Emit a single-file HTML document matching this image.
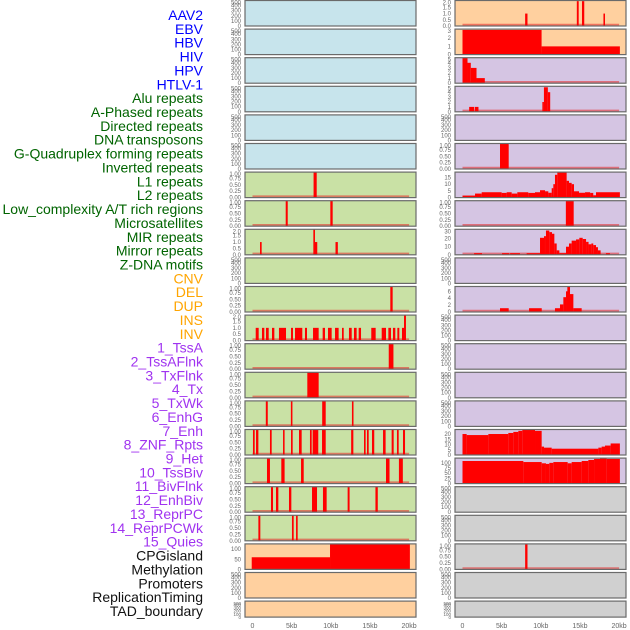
<!DOCTYPE html>
<html><head><meta charset="utf-8"><style>
html,body{margin:0;padding:0;background:#fff;}
svg{display:block;font-family:"Liberation Sans",sans-serif;}
</style></head><body>
<svg id="chart" width="630" height="630" viewBox="0 0 630 630" xmlns="http://www.w3.org/2000/svg"></svg>
<script>
// ---- labels ----
const trackLabels = ["AAV2","EBV","HBV","HIV","HPV","HTLV-1","Alu repeats","A-Phased repeats","Directed repeats","DNA transposons","G-Quadruplex forming repeats","Inverted repeats","L1 repeats","L2 repeats","Low_complexity A/T rich regions","Microsatellites","MIR repeats","Mirror repeats","Z-DNA motifs","CNV","DEL","DUP","INS","INV","1_TssA","2_TssAFlnk","3_TxFlnk","4_Tx","5_TxWk","6_EnhG","7_Enh","8_ZNF_Rpts","9_Het","10_TssBiv","11_BivFlnk","12_EnhBiv","13_ReprPC","14_ReprPCWk","15_Quies","CPGisland","Methylation","Promoters","ReplicationTiming","TAD_boundary"];
const labelGroups = ["blue","blue","blue","blue","blue","blue","green","green","green","green","green","green","green","green","green","green","green","green","green","orange","orange","orange","orange","orange","purple","purple","purple","purple","purple","purple","purple","purple","purple","purple","purple","purple","purple","purple","purple","black","black","black","black","black"];
const xTicks = [0,5,10,15,20];
const xTickLabels = ["0","5kb","10kb","15kb","20kb"];

// ---- y tick sets ----
const t500 = [0,100,200,300,400,500], t500L = ["0","100","200","300","400","500"];
const t1 = [0,0.25,0.5,0.75,1], t1L = ["0.00","0.25","0.50","0.75","1.00"];
const t2 = [0,0.5,1,1.5,2], t2L = ["0.0","0.5","1.0","1.5","2.0"];

// ---- left column data: [startKb, endKb, value] ----
const leftR6 = [[7.8,8.2,1]];
const leftR7 = [[4.24,4.5,1],[9.94,10.24,1]];
const leftR8 = [[0.96,1.17,1],[7.77,7.98,2],[7.98,8.27,1],[10.6,10.9,1]];
const leftR10 = [[17.6,17.9,1]];
const leftR11 = [[0.41,0.79,1],[1.21,1.51,1],[1.72,2.07,1],[2.49,2.79,1],[3.38,4.28,1],[4.92,5.17,1],[5.43,6.36,1],[6.7,6.96,1],[7.73,8.45,1],[8.96,9.26,1],[9.64,10.11,1],[10.54,11.0,1],[11.43,11.65,1],[12.32,12.67,1],[12.96,13.3,1],[13.56,13.86,1],[15.17,15.73,1],[16.5,17.05,1],[17.35,17.69,1],[17.94,18.24,1],[18.5,18.75,1],[19.09,19.35,1],[19.35,19.6,2]];
const leftR12 = [[17.4,18.0,1]];
const leftR13 = [[7.0,8.45,1]];
const leftR14 = [[1.7,1.95,1],[4.9,5.1,1],[8.9,9.35,1],[12.7,12.9,1]];
const leftR15 = [[0.06,0.28,1],[0.45,0.75,1],[2.23,2.45,1],[3.9,4.1,1],[4.92,5.13,1],[5.94,6.28,1],[7.34,7.56,1],[7.68,8.4,1],[8.88,9.35,1],[12.6,12.88,1],[14.24,14.45,1],[14.62,14.84,1],[15.26,15.55,1],[16.67,17.0,1],[17.77,18.03,1],[18.45,18.67,1],[19.22,19.48,1]];
const leftR16 = [[1.85,2.23,1],[3.68,4.1,1],[6.2,6.54,1],[17.05,17.5,1],[18.7,19.2,1]];
const leftR17 = [[2.36,2.62,1],[3.0,3.3,1],[4.66,4.96,1],[7.6,8.24,1],[9.0,9.47,1],[12.15,12.4,1],[15.7,16.0,1]];
const leftR18 = [[0.75,1.0,1],[5.04,5.26,1],[5.56,5.77,1]];
const leftR19 = [[-0.1,9.9,60],[9.9,20.1,126]];

// ---- right column data ----
const rightR0 = [[8.0,8.3,1],[14.6,14.84,2],[15.26,15.55,2],[18.0,18.2,1]];
const rightR1 = [[0,10.1,3],[10.1,20.1,1]];
const rightR2 = [[0,0.64,5],[0.64,1.06,4],[1.06,1.79,3],[1.79,2.85,1]];
const rightR3 = [[0.85,1.49,1],[1.58,2.04,1],[10.2,10.4,2],[10.4,10.9,5],[10.9,11.2,4]];
const rightR5 = [[4.79,5.9,1]];
const rightR6 = [[0,1.6,1.4],[1.6,2.45,3],[2.45,5.0,4],[5.0,5.64,3.5],[5.64,6.28,4],[6.28,7.0,3],[7.0,8.4,4],[8.4,9.26,3.5],[9.26,9.9,4],[9.9,10.54,5.5],[10.54,10.96,4.7],[10.96,11.39,3.6],[11.39,11.6,7],[11.6,11.81,10],[11.81,12.11,17],[12.11,13.3,19],[13.3,13.6,12.5],[13.6,13.94,11],[13.94,14.24,10],[14.24,14.88,4.7],[14.88,15.65,3.6],[15.65,16.3,4],[16.3,16.7,3.5],[16.7,17.05,1.7],[17.05,20.1,4]];
const rightR7 = [[13.2,14.2,1]];
const rightR8 = [[1.48,2.49,2],[5.05,5.98,2],[6.08,7.34,2],[8.19,9.9,2],[9.9,10.41,21],[10.41,10.66,23],[10.66,11.09,30],[11.09,11.43,28],[11.43,11.73,26],[11.73,12.03,14],[12.03,12.37,5.5],[12.37,13.22,2],[13.22,13.6,10],[13.6,13.94,14],[13.94,14.5,17.5],[14.5,14.92,19],[14.92,15.35,21],[15.35,15.78,19.5],[15.78,16.1,16],[16.1,16.46,13],[16.46,16.7,14],[16.7,17.05,12],[17.05,17.3,9.4],[17.3,17.64,5.5],[18.32,18.83,2]];
const rightR10 = [[4.79,5.9,1.1],[8.5,10.12,1.1],[11.81,12.45,1.1],[12.45,12.88,2.2],[12.88,13.22,4.3],[13.22,13.39,6],[13.39,13.73,7.3],[13.73,14.16,5.2],[14.16,15.22,1.1]];
const rightR15 = [[0,0.53,20],[0.53,3.3,19],[3.3,5.85,20],[5.85,6.49,21],[6.49,7.13,22],[7.13,7.64,23],[7.64,9.26,24],[9.26,10.11,23],[10.11,10.41,8],[10.41,11.39,7],[11.39,17.35,6],[17.35,17.77,7],[17.77,18.2,8],[18.2,18.92,9],[18.92,20.1,11]];
const rightR16 = [[0,7.77,109],[7.77,10.11,104],[10.11,10.66,98],[10.66,11.09,95],[11.09,11.6,100],[11.6,13.43,104],[13.43,13.94,98],[13.94,15.22,104],[15.22,16.07,109],[16.07,16.8,114],[16.8,17.56,119],[17.56,18.41,123],[18.41,20.1,119]];
const rightR19 = [[8.0,8.3,1]];

const BG = {blue:"#c7e4ec",orange:"#ffd09f",purple:"#d5c5e3",green:"#c9e1a5",gray:"#d0d0d0"};
const LBL = {blue:"#0000ff",green:"#006400",orange:"#ffa500",purple:"#a033f0",black:"#111"};

// panel specs: [side,row,bg,data,ticks,tickLabels,ymax]
const panels = [];
for(let r=0;r<6;r++) panels.push(["L",r,"blue",null,t500,t500L,500]);
const lData = {6:[leftR6,t1,t1L,1],7:[leftR7,t1,t1L,1],8:[leftR8,t2,t2L,2],10:[leftR10,t1,t1L,1],11:[leftR11,t2,t2L,2],12:[leftR12,t1,t1L,1],13:[leftR13,t1,t1L,1],14:[leftR14,t1,t1L,1],15:[leftR15,t1,t1L,1],16:[leftR16,t1,t1L,1],17:[leftR17,t1,t1L,1],18:[leftR18,t1,t1L,1]};
for(let r=6;r<19;r++){const d=lData[r]; panels.push(d?["L",r,"green",d[0],d[1],d[2],d[3]]:["L",r,"green",null,t500,t500L,500]);}
panels.push(["L",19,"orange",leftR19,[0,50,100],["0","50","100"],126]);
panels.push(["L",20,"orange",null,t500,t500L,500]);
panels.push(["L",21,"orange",null,t500,t500L,500]);
const rData = {0:[rightR0,t2,t2L,2.05],1:[rightR1,[0,1,2,3],["0","1","2","3"],3.1],2:[rightR2,[0,1,2,3,4,5],["0","1","2","3","4","5"],5],3:[rightR3,[0,1,2,3,4,5],["0","1","2","3","4","5"],5.2],5:[rightR5,t1,t1L,1],6:[rightR6,[0,5,10,15],["0","5","10","15"],19],7:[rightR7,t1,t1L,1],8:[rightR8,[0,10,20,30],["0","10","20","30"],31.5],10:[rightR10,[0,2,4,6],["0","2","4","6"],7.4],15:[rightR15,[0,5,10,15,20],["0","5","10","15","20"],24.3],16:[rightR16,[0,25,50,75,100],["0","25","50","75","100"],123],19:[rightR19,t1,t1L,1]};
for(let r=0;r<22;r++){const bg=r<2?"orange":(r<17?"purple":"gray");const d=rData[r];panels.push(d?["R",r,bg,d[0],d[1],d[2],d[3]]:["R",r,bg,null,t500,t500L,500]);}

const NS="http://www.w3.org/2000/svg";
const svg=document.getElementById('chart');
function mk(tag,attrs,parent){const e=document.createElementNS(NS,tag);for(const k in attrs)e.setAttribute(k,attrs[k]);(parent||svg).appendChild(e);return e;}
const colX = {L:{x0:245,x1:416,zero:252.5},R:{x0:455,x1:626,zero:462.5}};
const pxPerKb = 7.83;
function xScale(side,kb){return colX[side].zero+kb*pxPerKb;}
function rowTop(r){return 0.5+r*28.6;}
function rowH(r){return r===21?16:25.5;}

// labels
trackLabels.forEach((t,i)=>{
  const e=mk('text',{x:203,y:20+i*13.86,'text-anchor':'end','font-size':14,fill:LBL[labelGroups[i]]});
  
  
  e.textContent=t;
});

panels.forEach(p=>{
  const [side,r,bg,data,ticks,tl,ymax]=p;
  const c=colX[side], top=rowTop(r), h=rowH(r), bot=top+h;
  const g=mk('g',{});
  
  
  const rect=mk('rect',{x:c.x0,y:top,width:c.x1-c.x0,height:h,fill:BG[bg]},g);
  
  
  const yS=v=>bot-(v/ymax)*h;
  if(data){
    const base=mk('line',{x1:xScale(side,0),x2:xScale(side,20),y1:bot-1.2,y2:bot-1.2,stroke:'rgba(230,40,40,0.55)','stroke-width':2},g);
    
    
    data.forEach(d=>{
      const xa=Math.max(c.x0,xScale(side,d[0])), xb=Math.min(c.x1,xScale(side,d[1]));
      const yt=Math.max(top,yS(d[2]));
      const b=mk('rect',{x:xa,y:yt,width:Math.max(1.5,xb-xa),height:bot-yt,fill:'#ff0000'},g);
      
      
    });
  }
  const br=mk('rect',{x:c.x0,y:top,width:c.x1-c.x0,height:h,fill:'none',stroke:'#6a6a6a','stroke-width':1.2},g);
  
  
  ticks.forEach((t,i)=>{
    const y=Math.min(bot,Math.max(top+2,yS(t)));
    const e=mk('text',{x:c.x0-4,y:y+2,'text-anchor':'end','font-size':h<20?4.5:6,fill:'#666'},g);
    
    
    e.textContent=tl[i];
  });
});

['L','R'].forEach(side=>{
  xTicks.forEach((t,i)=>{
    const e=mk('text',{x:xScale(side,t),y:628,'text-anchor':'middle','font-size':7,fill:'#666'});
    
    
    e.textContent=xTickLabels[i];
  });
});
</script>
</body></html>
